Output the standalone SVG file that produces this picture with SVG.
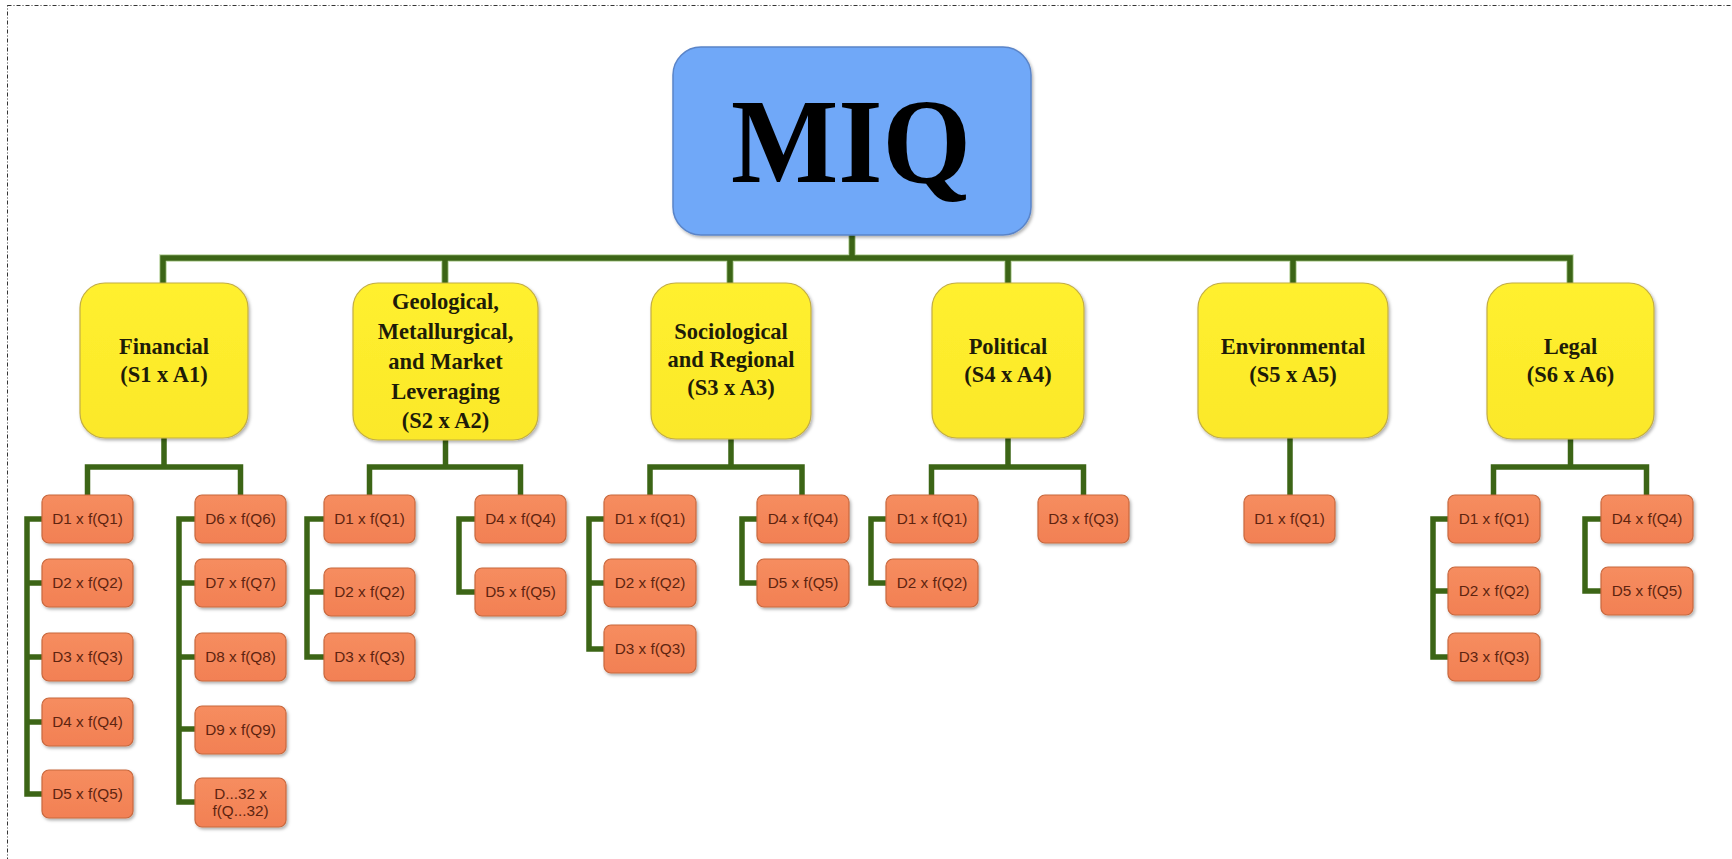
<svg xmlns="http://www.w3.org/2000/svg" width="1732" height="859" viewBox="0 0 1732 859">
<defs>
<filter id="sh" x="-10%" y="-10%" width="125%" height="130%">
<feDropShadow dx="1.5" dy="2" stdDeviation="1.5" flood-color="#000" flood-opacity="0.3"/>
</filter>
<linearGradient id="gy" x1="0" y1="0" x2="0" y2="1">
<stop offset="0" stop-color="#fff02f"/>
<stop offset="1" stop-color="#fbe829"/>
</linearGradient>
<linearGradient id="go" x1="0" y1="0" x2="0" y2="1">
<stop offset="0" stop-color="#f68d5f"/>
<stop offset="1" stop-color="#f28054"/>
</linearGradient>
</defs>
<style>
.frame{fill:none;stroke:#333;stroke-width:1;stroke-dasharray:4 2 1 2}
.root{fill:#6fa8f8;stroke:#5a84c8;stroke-width:1.5}
.cat{fill:url(#gy);stroke:#c2ad45;stroke-width:1.2}
.leaf{fill:url(#go);stroke:#c8683e;stroke-width:1.2}
.ct{font-family:"Liberation Serif","Times New Roman",serif;font-weight:bold;font-size:22.5px;fill:#1e1c08;text-anchor:middle}
.lt{font-family:"Liberation Sans",Arial,sans-serif;font-size:15.3px;fill:#5e2410;text-anchor:middle}
.cn{fill:none;stroke:#3c6516;stroke-width:5.5;stroke-linejoin:miter;stroke-linecap:square}
.cn2{fill:none;stroke:#6ea43a;stroke-width:7.5;stroke-linejoin:miter;stroke-linecap:square;opacity:0.45}
</style>
<rect class="frame" x="7.5" y="5.5" width="1760" height="900"/>
<g id="connectors">
<path class="cn2" d="M852,235V258 M163,283V258H1570V283 M445,258V283 M730,258V283 M1008,258V283 M1293,258V283"/>
<path class="cn" d="M852,235V258 M163,283V258H1570V283 M445,258V283 M730,258V283 M1008,258V283 M1293,258V283"/>
<path class="cn" d="M164,438V467 M87.5,495V467H240.5V495 M42,519H27V794H42 M27,583H42 M27,657H42 M27,722H42 M195,519H179V802H195 M179,583H195 M179,657H195 M179,729H195"/>
<path class="cn" d="M445.5,440V467 M369.5,495V467H520.5V495 M324,519H307V657H324 M307,592H324 M475,519H459V592H475"/>
<path class="cn" d="M731,439V467 M650,495V467H802V495 M604,519H589V649H604 M589,583H604 M757,519H742V583H757"/>
<path class="cn" d="M1008,438V467 M931.5,495V467H1083.5V495 M886,519H871V583H886"/>
<path class="cn" d="M1290,438V495"/>
<path class="cn" d="M1570.5,439V467 M1493.5,495V467H1646.5V495 M1448,519H1433V657H1448 M1433,591H1448 M1601,519H1585V591H1601"/>
</g>
<g id="miq">
<rect class="root" x="673" y="47" width="358" height="188" rx="28" filter="url(#sh)"/>
<text x="851" y="182" font-family="Liberation Serif,Times New Roman,serif" font-weight="bold" font-size="121" fill="#000" text-anchor="middle" textLength="240" lengthAdjust="spacingAndGlyphs">MIQ</text>
</g>
<g id="financial">
<rect class="cat" x="80" y="283" width="168" height="155" rx="25" filter="url(#sh)"/>
<text class="ct" x="164" y="354">Financial</text>
<text class="ct" x="164" y="382">(S1 x A1)</text>
</g>
<g id="geological">
<rect class="cat" x="353" y="283" width="185" height="157" rx="25" filter="url(#sh)"/>
<text class="ct" x="445.5" y="309">Geological,</text>
<text class="ct" x="445.5" y="339">Metallurgical,</text>
<text class="ct" x="445.5" y="369">and Market</text>
<text class="ct" x="445.5" y="398.5">Leveraging</text>
<text class="ct" x="445.5" y="428">(S2 x A2)</text>
</g>
<g id="sociological">
<rect class="cat" x="651" y="283" width="160" height="156" rx="25" filter="url(#sh)"/>
<text class="ct" x="731" y="339">Sociological</text>
<text class="ct" x="731" y="367">and Regional</text>
<text class="ct" x="731" y="395">(S3 x A3)</text>
</g>
<g id="political">
<rect class="cat" x="932" y="283" width="152" height="155" rx="25" filter="url(#sh)"/>
<text class="ct" x="1008" y="354">Political</text>
<text class="ct" x="1008" y="382">(S4 x A4)</text>
</g>
<g id="environmental">
<rect class="cat" x="1198" y="283" width="190" height="155" rx="25" filter="url(#sh)"/>
<text class="ct" x="1293" y="354">Environmental</text>
<text class="ct" x="1293" y="382">(S5 x A5)</text>
</g>
<g id="legal">
<rect class="cat" x="1487" y="283" width="167" height="156" rx="25" filter="url(#sh)"/>
<text class="ct" x="1570.5" y="354">Legal</text>
<text class="ct" x="1570.5" y="382">(S6 x A6)</text>
</g>
<g id="fin-d1"><rect class="leaf" x="42" y="495" width="91" height="48" rx="7" filter="url(#sh)"/><text class="lt" x="87.5" y="524">D1 x f(Q1)</text></g>
<g id="fin-d2"><rect class="leaf" x="42" y="559" width="91" height="48" rx="7" filter="url(#sh)"/><text class="lt" x="87.5" y="588">D2 x f(Q2)</text></g>
<g id="fin-d3"><rect class="leaf" x="42" y="633" width="91" height="48" rx="7" filter="url(#sh)"/><text class="lt" x="87.5" y="662">D3 x f(Q3)</text></g>
<g id="fin-d4"><rect class="leaf" x="42" y="698" width="91" height="48" rx="7" filter="url(#sh)"/><text class="lt" x="87.5" y="727">D4 x f(Q4)</text></g>
<g id="fin-d5"><rect class="leaf" x="42" y="770" width="91" height="48" rx="7" filter="url(#sh)"/><text class="lt" x="87.5" y="799">D5 x f(Q5)</text></g>
<g id="fin-d6"><rect class="leaf" x="195" y="495" width="91" height="48" rx="7" filter="url(#sh)"/><text class="lt" x="240.5" y="524">D6 x f(Q6)</text></g>
<g id="fin-d7"><rect class="leaf" x="195" y="559" width="91" height="48" rx="7" filter="url(#sh)"/><text class="lt" x="240.5" y="588">D7 x f(Q7)</text></g>
<g id="fin-d8"><rect class="leaf" x="195" y="633" width="91" height="48" rx="7" filter="url(#sh)"/><text class="lt" x="240.5" y="662">D8 x f(Q8)</text></g>
<g id="fin-d9"><rect class="leaf" x="195" y="706" width="91" height="48" rx="7" filter="url(#sh)"/><text class="lt" x="240.5" y="735">D9 x f(Q9)</text></g>
<g id="fin-d32"><rect class="leaf" x="195" y="778" width="91" height="49" rx="7" filter="url(#sh)"/><text class="lt" x="240.5" y="799">D...32 x</text><text class="lt" x="240.5" y="816">f(Q...32)</text></g>
<g id="geo-d1"><rect class="leaf" x="324" y="495" width="91" height="48" rx="7" filter="url(#sh)"/><text class="lt" x="369.5" y="524">D1 x f(Q1)</text></g>
<g id="geo-d2"><rect class="leaf" x="324" y="568" width="91" height="48" rx="7" filter="url(#sh)"/><text class="lt" x="369.5" y="597">D2 x f(Q2)</text></g>
<g id="geo-d3"><rect class="leaf" x="324" y="633" width="91" height="48" rx="7" filter="url(#sh)"/><text class="lt" x="369.5" y="662">D3 x f(Q3)</text></g>
<g id="geo-d4"><rect class="leaf" x="475" y="495" width="91" height="48" rx="7" filter="url(#sh)"/><text class="lt" x="520.5" y="524">D4 x f(Q4)</text></g>
<g id="geo-d5"><rect class="leaf" x="475" y="568" width="91" height="48" rx="7" filter="url(#sh)"/><text class="lt" x="520.5" y="597">D5 x f(Q5)</text></g>
<g id="soc-d1"><rect class="leaf" x="604" y="495" width="92" height="48" rx="7" filter="url(#sh)"/><text class="lt" x="650" y="524">D1 x f(Q1)</text></g>
<g id="soc-d2"><rect class="leaf" x="604" y="559" width="92" height="48" rx="7" filter="url(#sh)"/><text class="lt" x="650" y="588">D2 x f(Q2)</text></g>
<g id="soc-d3"><rect class="leaf" x="604" y="625" width="92" height="48" rx="7" filter="url(#sh)"/><text class="lt" x="650" y="654">D3 x f(Q3)</text></g>
<g id="soc-d4"><rect class="leaf" x="757" y="495" width="92" height="48" rx="7" filter="url(#sh)"/><text class="lt" x="803" y="524">D4 x f(Q4)</text></g>
<g id="soc-d5"><rect class="leaf" x="757" y="559" width="92" height="48" rx="7" filter="url(#sh)"/><text class="lt" x="803" y="588">D5 x f(Q5)</text></g>
<g id="pol-d1"><rect class="leaf" x="886" y="495" width="92" height="48" rx="7" filter="url(#sh)"/><text class="lt" x="932" y="524">D1 x f(Q1)</text></g>
<g id="pol-d2"><rect class="leaf" x="886" y="559" width="92" height="48" rx="7" filter="url(#sh)"/><text class="lt" x="932" y="588">D2 x f(Q2)</text></g>
<g id="pol-d3"><rect class="leaf" x="1038" y="495" width="91" height="48" rx="7" filter="url(#sh)"/><text class="lt" x="1083.5" y="524">D3 x f(Q3)</text></g>
<g id="env-d1"><rect class="leaf" x="1244" y="495" width="91" height="48" rx="7" filter="url(#sh)"/><text class="lt" x="1289.5" y="524">D1 x f(Q1)</text></g>
<g id="leg-d1"><rect class="leaf" x="1448" y="495" width="92" height="48" rx="7" filter="url(#sh)"/><text class="lt" x="1494" y="524">D1 x f(Q1)</text></g>
<g id="leg-d2"><rect class="leaf" x="1448" y="567" width="92" height="48" rx="7" filter="url(#sh)"/><text class="lt" x="1494" y="596">D2 x f(Q2)</text></g>
<g id="leg-d3"><rect class="leaf" x="1448" y="633" width="92" height="48" rx="7" filter="url(#sh)"/><text class="lt" x="1494" y="662">D3 x f(Q3)</text></g>
<g id="leg-d4"><rect class="leaf" x="1601" y="495" width="92" height="48" rx="7" filter="url(#sh)"/><text class="lt" x="1647" y="524">D4 x f(Q4)</text></g>
<g id="leg-d5"><rect class="leaf" x="1601" y="567" width="92" height="48" rx="7" filter="url(#sh)"/><text class="lt" x="1647" y="596">D5 x f(Q5)</text></g>
</svg>
